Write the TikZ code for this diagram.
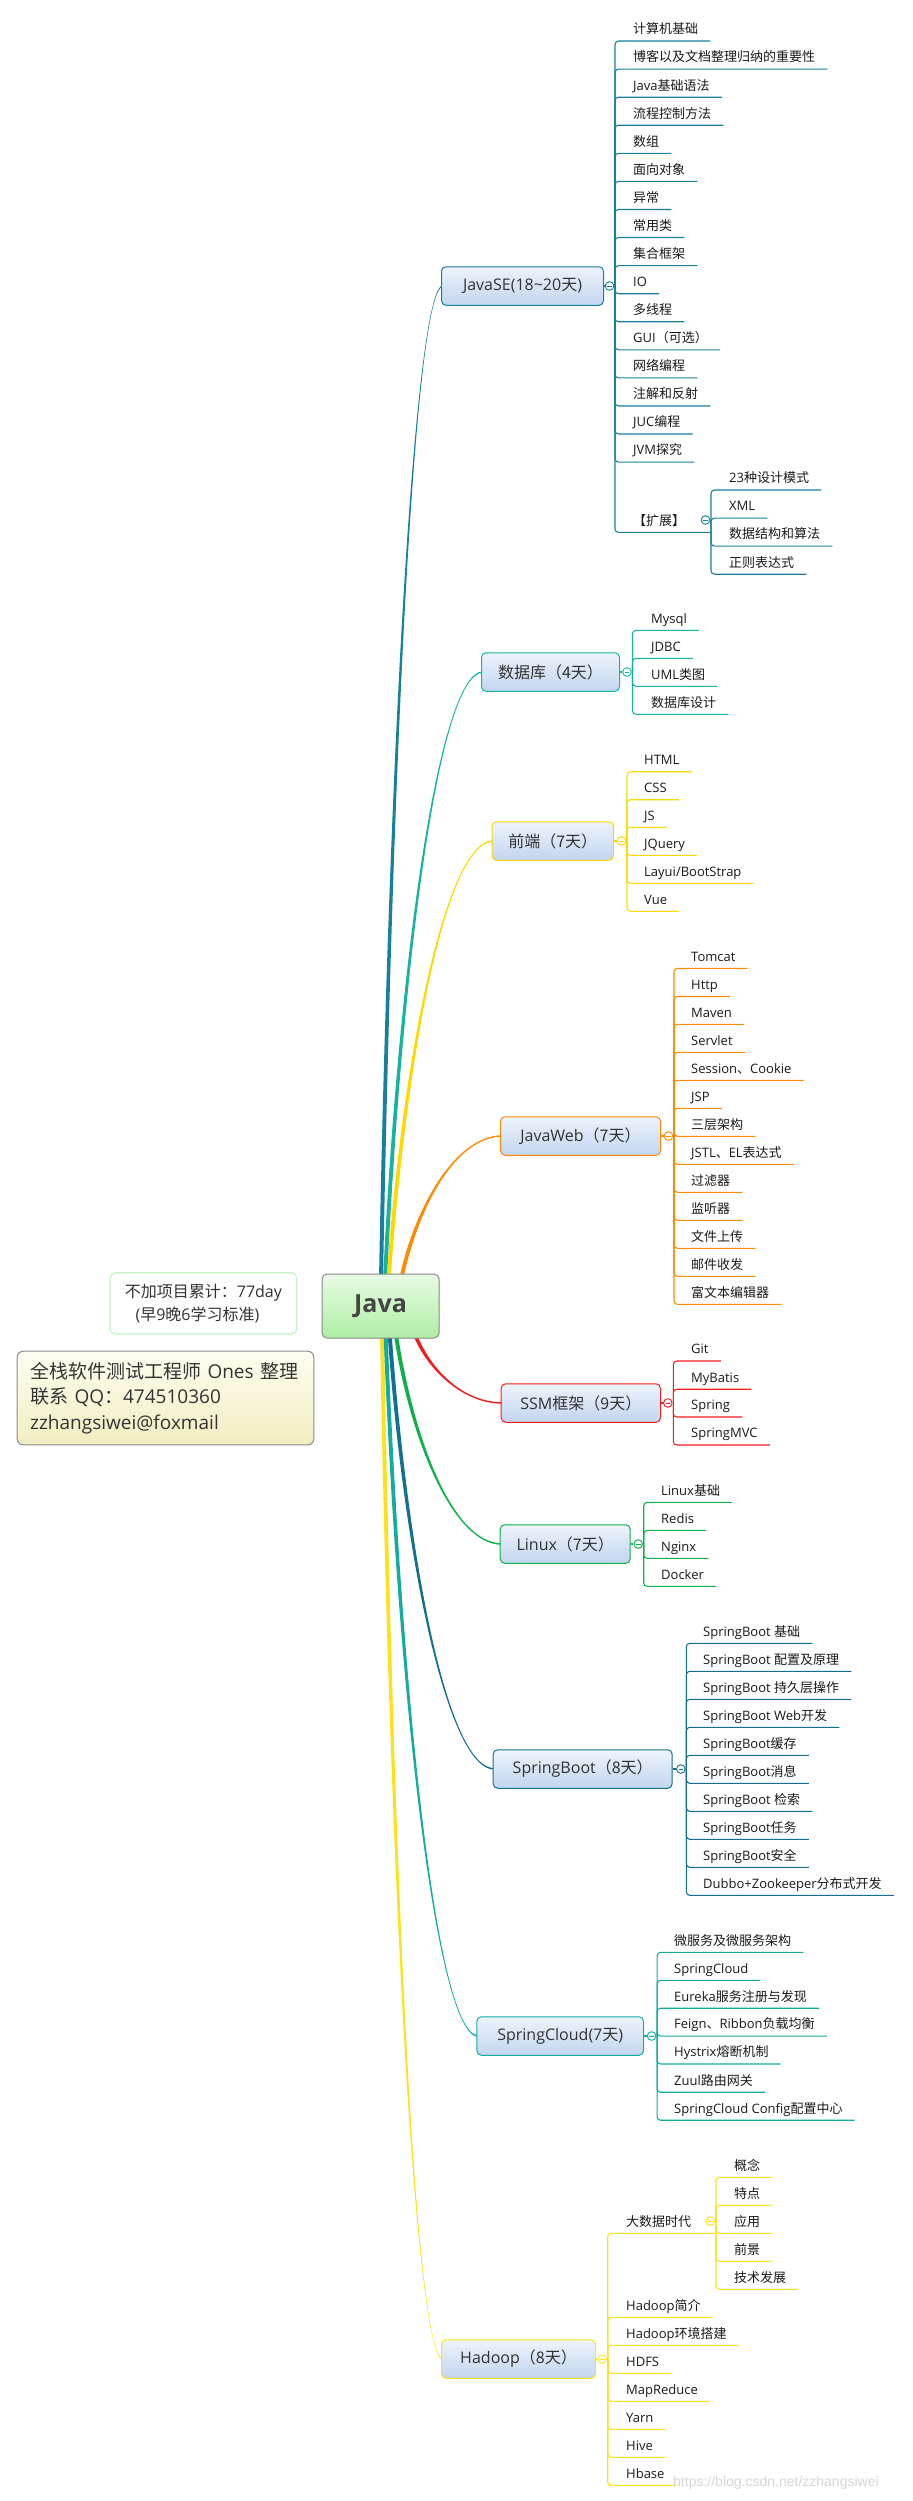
\documentclass[tikz,border=0pt]{standalone}
\usepackage{fontspec}
\setmainfont{Open Sans}
\newfontfamily\zhfont{Noto Sans CJK SC}
\newfontfamily\wmfont{Liberation Sans}
\newcommand\zh[1]{{\zhfont #1}}
\usetikzlibrary{calc}
\pgfdeclarelayer{bg}
\pgfsetlayers{bg,main}
\definecolor{cJSE}{HTML}{17809E}
\definecolor{cDB}{HTML}{16B3A3}
\definecolor{cFE}{HTML}{FFD800}
\definecolor{cJW}{HTML}{FF8A00}
\definecolor{cSSM}{HTML}{F41D1D}
\definecolor{cLX}{HTML}{0DB04B}
\definecolor{cSB}{HTML}{14708F}
\definecolor{cSC}{HTML}{12ACA0}
\definecolor{cHD}{HTML}{FFE01A}
\definecolor{topA}{HTML}{EEF4FC}
\definecolor{topB}{HTML}{C2D5EF}
\definecolor{javaA}{HTML}{E9FBE5}
\definecolor{javaB}{HTML}{AEEFA3}
\definecolor{javaLine}{HTML}{888888}
\definecolor{javaTxt}{HTML}{454545}
\definecolor{infoA}{HTML}{FEFDF1}
\definecolor{infoB}{HTML}{F2EEC0}
\definecolor{infoLine}{HTML}{8C8C8C}
\definecolor{noteLine}{HTML}{C6F4C6}
\definecolor{txt}{HTML}{333333}
\definecolor{itemtxt}{HTML}{1A1A1A}
% tapered curved connector from a start coordinate to a topic's west side
% #1 colour, #2 start coordinate, #3 target node, #4 1 (upwards) or -1 (downwards)
\newcommand\branch[4]{%
  \begin{pgfonlayer}{bg}
  \fill[#1] let \p1=(#2), \p2=(#3.west),
      \n1={\x1+0.15*(\x2-\x1)}, \n2={\x1+0.55*(\x2-\x1)}, \n3={0.5*(\y1+\y2)},
      \n4={\y2+(#4)*0.75pt}, \n5={\y2-(#4)*0.75pt} in
    ({\x1-2pt},\y1) .. controls ({\n1-2pt},{\n3+0pt}) and ({\n2+0pt},{\n4+0pt}) .. ({\x2+2pt},{\n4+0pt})
    -- ({\x2+2pt},{\n5+0pt}) .. controls ({\n2+0pt},{\n5+0pt}) and ({\n1+2pt},{\n3+0pt}) .. ({\x1+2pt},\y1) -- cycle;
  \end{pgfonlayer}}
% #1 name, #2 x, #3 underline y, #4 text, #5 colour, #6 origin coordinate
\newcommand\kid[6]{%
  \node[kidtext] (#1) at (#2,#3) {#4};
  \draw[kidline,#5] (#6) |- ($(#1.south east)+(12,0)$);}
\begin{document}
\begin{tikzpicture}[x=1pt,y=-1pt,
  topic/.style={draw=#1, line width=1pt, rounded corners=4.5pt, top color=topA, bottom color=topB,
    anchor=west, inner xsep=0pt, minimum height=38.5pt, font=\fontsize{16pt}{19pt}\selectfont, text=txt},
  kidtext/.style={anchor=south west, inner xsep=0pt, inner ysep=4pt, text height=10pt, text depth=3pt,
    font=\fontsize{13pt}{15pt}\selectfont, text=itemtxt},
  kidline/.style={line width=1.1pt, rounded corners=3.5pt},
  circ/.style={circle, draw=#1, fill=white, line width=0.9pt, minimum size=8.6pt, inner sep=0pt,
    path picture={\draw[#1, line width=0.8pt] ([xshift=-2.3pt]path picture bounding box.center) -- ([xshift=2.3pt]path picture bounding box.center);}},
  link/.style={line width=1.1pt, draw=#1}
]
\useasboundingbox (0,0) rectangle (913,2501);
\begin{pgfonlayer}{bg}
\fill[white] (0,0) rectangle (913,2501);
\end{pgfonlayer}

% ---------- central node, note and info ----------
\node[draw=javaLine, line width=1pt, rounded corners=5pt, top color=javaA, bottom color=javaB,
  minimum width=117pt, minimum height=64pt, font=\bfseries\fontsize{25pt}{30pt}\selectfont, text=javaTxt] (java) at (380.5,1306) {Java};

\node[draw=noteLine, line width=1.3pt, rounded corners=6pt, fill=white, minimum width=186.7pt, minimum height=61.3pt,
  align=center, font=\fontsize{16pt}{23pt}\selectfont, text=txt] (note) at (203.4,1303.4)
  {\zh{不加项目累计：}77day\\(\zh{早}9\zh{晚}6\zh{学习标准})\hspace*{12pt}};

\node[draw=infoLine, line width=1pt, rounded corners=6pt, top color=infoA, bottom color=infoB, anchor=north west,
  minimum height=93.6pt, inner xsep=13pt, text width=270.6pt, align=left,
  font=\fontsize{19pt}{25.8pt}\selectfont, text=txt] (info) at (16.7,1350.7)
  {\mbox{\zh{全栈软件测试工程师} Ones \zh{整理}}\\\zh{联系} QQ\zh{：}474510360\\zzhangsiwei@foxmail};

% ---------- topics ----------
\node[topic=cJSE, minimum width=162pt] (jse) at (441,286) {JavaSE(18\textasciitilde20\zh{天})};
\node[topic=cDB, minimum width=138pt] (db) at (481,672) {\zh{数据库（4天）}};
\node[topic=cFE, minimum width=121.5pt] (fe) at (491.5,841) {\zh{前端（7天）}};
\node[topic=cJW, minimum width=160pt] (jw) at (500,1136) {JavaWeb\zh{（7天）}};
\node[topic=cSSM, minimum width=159.3pt] (ssm) at (500.7,1403) {SSM\zh{框架（9天）}};
\node[topic=cLX, minimum width=130pt] (lx) at (499.7,1544) {Linux\zh{（7天）}};
\node[topic=cSB, minimum width=179pt] (sb) at (492.7,1769) {SpringBoot\zh{（8天）}};
\node[topic=cSC, minimum width=166.6pt] (sc) at (476.4,2036) {SpringCloud(7\zh{天})};
\node[topic=cHD, minimum width=154pt] (hd) at (441,2359) {Hadoop\zh{（8天）}};

% ---------- curved main connectors ----------
\coordinate (s-jse) at (381,1280);
\coordinate (s-db) at (385,1280);
\coordinate (s-fe) at (388.5,1280);
\coordinate (s-jw) at (401,1280);
\coordinate (s-hd) at (382,1332);
\coordinate (s-sc) at (385.5,1332);
\coordinate (s-sb) at (389.5,1332);
\coordinate (s-lx) at (395.5,1332);
\coordinate (s-ssm) at (414,1332);
\branch{cJSE}{s-jse}{jse}{1}
\branch{cDB}{s-db}{db}{1}
\branch{cFE}{s-fe}{fe}{1}
\branch{cJW}{s-jw}{jw}{1}
\branch{cHD}{s-hd}{hd}{-1}
\branch{cSC}{s-sc}{sc}{-1}
\branch{cSB}{s-sb}{sb}{-1}
\branch{cLX}{s-lx}{lx}{-1}
\branch{cSSM}{s-ssm}{ssm}{-1}

% ---------- collapse circles ----------
\node[circ=cJSE] (jse-c) at (609.5,286) {};
\node[circ=cDB] (db-c) at (627,672) {};
\node[circ=cFE] (fe-c) at (621.5,841) {};
\node[circ=cJW] (jw-c) at (668.5,1136) {};
\node[circ=cSSM] (ssm-c) at (667.8,1403) {};
\node[circ=cLX] (lx-c) at (638.2,1544) {};
\node[circ=cSB] (sb-c) at (680.8,1769) {};
\node[circ=cSC] (sc-c) at (651.6,2036) {};
\node[circ=cHD] (hd-c) at (602.2,2359) {};
\foreach \t/\c in {jse/cJSE,db/cDB,fe/cFE,jw/cJW,ssm/cSSM,lx/cLX,sb/cSB,sc/cSC,hd/cHD}
  \draw[link=\c] (\t.east) -- (\t-c.west);

\coordinate (jse-o) at (615,286);
\coordinate (db-o) at (632.5,672);
\coordinate (fe-o) at (627,841);
\coordinate (jw-o) at (674,1136);
\coordinate (ssm-o) at (673.3,1403);
\coordinate (lx-o) at (643.7,1544);
\coordinate (sb-o) at (686.3,1769);
\coordinate (sc-o) at (657.1,2036);
\coordinate (hd-o) at (607.7,2359);

% ---------- JavaSE ----------
\kid{jse1}{633}{41.0}{\zh{计算机基础}}{cJSE}{jse-o}
\kid{jse2}{633}{69.1}{\zh{博客以及文档整理归纳的重要性}}{cJSE}{jse-o}
\kid{jse3}{633}{97.2}{Java\zh{基础语法}}{cJSE}{jse-o}
\kid{jse4}{633}{125.2}{\zh{流程控制方法}}{cJSE}{jse-o}
\kid{jse5}{633}{153.3}{\zh{数组}}{cJSE}{jse-o}
\kid{jse6}{633}{181.4}{\zh{面向对象}}{cJSE}{jse-o}
\kid{jse7}{633}{209.5}{\zh{异常}}{cJSE}{jse-o}
\kid{jse8}{633}{237.5}{\zh{常用类}}{cJSE}{jse-o}
\kid{jse9}{633}{265.6}{\zh{集合框架}}{cJSE}{jse-o}
\kid{jse10}{633}{293.7}{IO}{cJSE}{jse-o}
\kid{jse11}{633}{321.7}{\zh{多线程}}{cJSE}{jse-o}
\kid{jse12}{633}{349.8}{GUI\zh{（可选）}}{cJSE}{jse-o}
\kid{jse13}{633}{377.9}{\zh{网络编程}}{cJSE}{jse-o}
\kid{jse14}{633}{406.0}{\zh{注解和反射}}{cJSE}{jse-o}
\kid{jse15}{633}{434.0}{JUC\zh{编程}}{cJSE}{jse-o}
\kid{jse16}{633}{462.1}{JVM\zh{探究}}{cJSE}{jse-o}
\node[kidtext] (ext) at (633,532.4) {\zh{【扩展】}};
\coordinate (ext-o) at (711,532.4);
\draw[kidline,cJSE] (jse-o) |- (ext-o);
\node[circ=cJSE] (ext-c) at (705.5,520) {};
\kid{ext1}{729}{490.0}{23\zh{种设计模式}}{cJSE}{ext-o}
\kid{ext2}{729}{518.1}{XML}{cJSE}{ext-o}
\kid{ext3}{729}{546.1}{\zh{数据结构和算法}}{cJSE}{ext-o}
\kid{ext4}{729}{574.2}{\zh{正则表达式}}{cJSE}{ext-o}

% ---------- database ----------
\kid{db1}{651}{630.3}{Mysql}{cDB}{db-o}
\kid{db2}{651}{658.3}{JDBC}{cDB}{db-o}
\kid{db3}{651}{686.3}{UML\zh{类图}}{cDB}{db-o}
\kid{db4}{651}{714.3}{\zh{数据库设计}}{cDB}{db-o}

% ---------- front end ----------
\kid{fe1}{644}{771.7}{HTML}{cFE}{fe-o}
\kid{fe2}{644}{799.7}{CSS}{cFE}{fe-o}
\kid{fe3}{644}{827.3}{JS}{cFE}{fe-o}
\kid{fe4}{644}{855.3}{JQuery}{cFE}{fe-o}
\kid{fe5}{644}{883.3}{Layui/BootStrap}{cFE}{fe-o}
\kid{fe6}{644}{911.3}{Vue}{cFE}{fe-o}

% ---------- JavaWeb ----------
\kid{jw1}{691}{968.3}{Tomcat}{cJW}{jw-o}
\kid{jw2}{691}{996.5}{Http}{cJW}{jw-o}
\kid{jw3}{691}{1024.3}{Maven}{cJW}{jw-o}
\kid{jw4}{691}{1052.3}{Servlet}{cJW}{jw-o}
\kid{jw5}{691}{1080.3}{Session\zh{、}Cookie}{cJW}{jw-o}
\kid{jw6}{691}{1108.3}{JSP}{cJW}{jw-o}
\kid{jw7}{691}{1136.3}{\zh{三层架构}}{cJW}{jw-o}
\kid{jw8}{691}{1164.3}{JSTL\zh{、}EL\zh{表达式}}{cJW}{jw-o}
\kid{jw9}{691}{1192.3}{\zh{过滤器}}{cJW}{jw-o}
\kid{jw10}{691}{1220.3}{\zh{监听器}}{cJW}{jw-o}
\kid{jw11}{691}{1248.3}{\zh{文件上传}}{cJW}{jw-o}
\kid{jw12}{691}{1276.3}{\zh{邮件收发}}{cJW}{jw-o}
\kid{jw13}{691}{1304.3}{\zh{富文本编辑器}}{cJW}{jw-o}

% ---------- SSM ----------
\kid{ssm1}{691}{1361.0}{Git}{cSSM}{ssm-o}
\kid{ssm2}{691}{1389.2}{MyBatis}{cSSM}{ssm-o}
\kid{ssm3}{691}{1417.0}{Spring}{cSSM}{ssm-o}
\kid{ssm4}{691}{1445.0}{SpringMVC}{cSSM}{ssm-o}

% ---------- Linux ----------
\kid{lx1}{661}{1502.3}{Linux\zh{基础}}{cLX}{lx-o}
\kid{lx2}{661}{1530.3}{Redis}{cLX}{lx-o}
\kid{lx3}{661}{1558.3}{Nginx}{cLX}{lx-o}
\kid{lx4}{661}{1586.3}{Docker}{cLX}{lx-o}

% ---------- SpringBoot ----------
\kid{sb1}{703}{1643.3}{SpringBoot \zh{基础}}{cSB}{sb-o}
\kid{sb2}{703}{1671.3}{SpringBoot \zh{配置及原理}}{cSB}{sb-o}
\kid{sb3}{703}{1699.3}{SpringBoot \zh{持久层操作}}{cSB}{sb-o}
\kid{sb4}{703}{1727.3}{SpringBoot Web\zh{开发}}{cSB}{sb-o}
\kid{sb5}{703}{1755.3}{SpringBoot\zh{缓存}}{cSB}{sb-o}
\kid{sb6}{703}{1783.3}{SpringBoot\zh{消息}}{cSB}{sb-o}
\kid{sb7}{703}{1811.3}{SpringBoot \zh{检索}}{cSB}{sb-o}
\kid{sb8}{703}{1839.3}{SpringBoot\zh{任务}}{cSB}{sb-o}
\kid{sb9}{703}{1867.3}{SpringBoot\zh{安全}}{cSB}{sb-o}
\kid{sb10}{703}{1895.3}{Dubbo+Zookeeper\zh{分布式开发}}{cSB}{sb-o}

% ---------- SpringCloud ----------
\kid{sc1}{674}{1952.3}{\zh{微服务及微服务架构}}{cSC}{sc-o}
\kid{sc2}{674}{1980.3}{SpringCloud}{cSC}{sc-o}
\kid{sc3}{674}{2008.2}{Eureka\zh{服务注册与发现}}{cSC}{sc-o}
\kid{sc4}{674}{2036.1}{Feign\zh{、}Ribbon\zh{负载均衡}}{cSC}{sc-o}
\kid{sc5}{674}{2064.0}{Hystrix\zh{熔断机制}}{cSC}{sc-o}
\kid{sc6}{674}{2092.2}{Zuul\zh{路由网关}}{cSC}{sc-o}
\kid{sc7}{674}{2120.2}{SpringCloud Config\zh{配置中心}}{cSC}{sc-o}

% ---------- Hadoop ----------
\node[kidtext] (big) at (626,2233.3) {\zh{大数据时代}};
\coordinate (big-o) at (716,2233.3);
\draw[kidline,cHD] (hd-o) |- (big-o);
\node[circ=cHD] (big-c) at (710.3,2221) {};
\kid{big1}{734}{2177.3}{\zh{概念}}{cHD}{big-o}
\kid{big2}{734}{2205.3}{\zh{特点}}{cHD}{big-o}
\kid{big3}{734}{2233.3}{\zh{应用}}{cHD}{big-o}
\kid{big4}{734}{2261.3}{\zh{前景}}{cHD}{big-o}
\kid{big5}{734}{2289.3}{\zh{技术发展}}{cHD}{big-o}
\kid{hd2}{626}{2317.3}{Hadoop\zh{简介}}{cHD}{hd-o}
\kid{hd3}{626}{2345.3}{Hadoop\zh{环境搭建}}{cHD}{hd-o}
\kid{hd4}{626}{2373.3}{HDFS}{cHD}{hd-o}
\kid{hd5}{626}{2401.3}{MapReduce}{cHD}{hd-o}
\kid{hd6}{626}{2429.3}{Yarn}{cHD}{hd-o}
\kid{hd7}{626}{2457.3}{Hive}{cHD}{hd-o}
\kid{hd8}{626}{2485.3}{Hbase}{cHD}{hd-o}

% ---------- watermark ----------
\node[anchor=west, inner sep=0pt, font=\wmfont\fontsize{14pt}{16pt}\selectfont, text=black!16] (wm) at (673,2483) {https://blog.csdn.net/zzhangsiwei};
\end{tikzpicture}
\end{document}
